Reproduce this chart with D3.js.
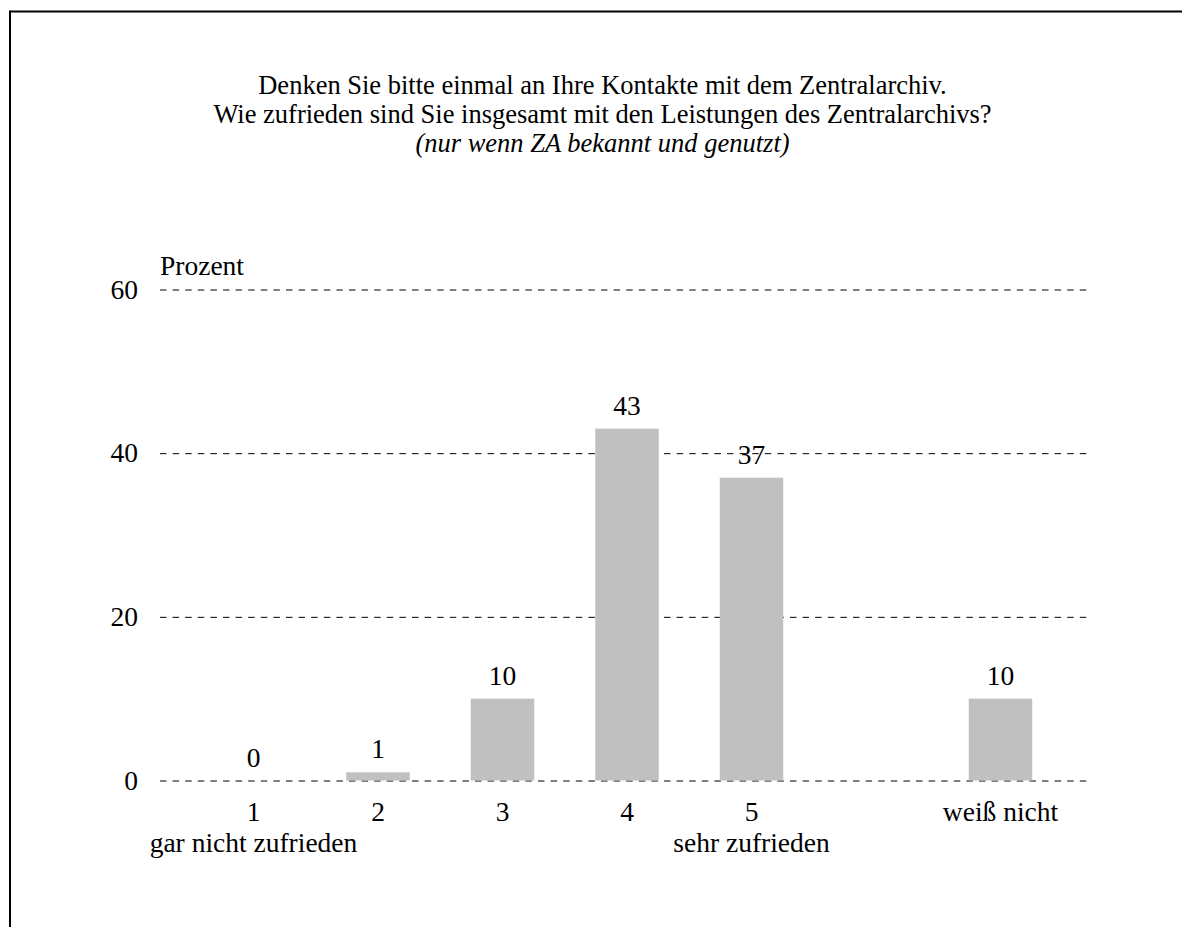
<!DOCTYPE html>
<html>
<head>
<meta charset="utf-8">
<script src="https://cdn.jsdelivr.net/npm/d3@7"></script>
<style>
  html, body { margin: 0; padding: 0; background: #fff; }
  svg { display: block; }
  text { font-family: "Liberation Serif", "Times New Roman", serif; fill: #000; }
</style>
</head>
<body>
<svg id="chart" width="1182" height="927"></svg>
<script>
// Answer categories (1 = gar nicht zufrieden ... 5 = sehr zufrieden, plus "weiß nicht")
const categories = ["1", "2", "3", "4", "5", "weiß nicht"];
// Share of respondents in percent
const values = [0, 1, 10, 43, 37, 10];
// Y axis ticks
const yTicks = [0, 20, 40, 60];
const titleLines = [
  "Denken Sie bitte einmal an Ihre Kontakte mit dem Zentralarchiv.",
  "Wie zufrieden sind Sie insgesamt mit den Leistungen des Zentralarchivs?"
];
const subtitle = "(nur wenn ZA bekannt und genutzt)";
const scaleEnds = [{ cat: "1", text: "gar nicht zufrieden" }, { cat: "5", text: "sehr zufrieden" }];

const labelSize = "27.5px";
const titleSize = "26.5px";

const svg = d3.select("#chart");

// Frame: top and left edge
svg.append("line").attr("x1", 10).attr("x2", 1182).attr("y1", 11.5).attr("y2", 11.5)
  .attr("stroke", "#000").attr("stroke-width", 2);
svg.append("line").attr("x1", 10).attr("x2", 10).attr("y1", 10.5).attr("y2", 927)
  .attr("stroke", "#000").attr("stroke-width", 2);

// Title
const title = svg.append("text").attr("text-anchor", "middle").style("font-size", titleSize);
titleLines.forEach((t, i) => {
  title.append("tspan").attr("x", 602.5).attr("y", 94 + i * 29).text(t);
});
svg.append("text").attr("x", 602.5).attr("y", 152).attr("text-anchor", "middle")
  .style("font-size", titleSize).style("font-style", "italic").text(subtitle);

// Scales: one empty slot separates "weiß nicht" from the rating scale
const slots = categories.slice(0, 5).concat([" "], categories.slice(5));
const x = d3.scalePoint().domain(slots).range([253.5, 1000.5]);
const barW = x.step() * 0.51;
const y = d3.scaleLinear().domain([0, 60]).range([780.5, 289.5]);

const gridLeft = 160, gridRight = 1090;

// Y axis with dashed gridlines
const yAxis = svg.append("g").attr("transform", `translate(${gridLeft},0)`)
  .call(d3.axisLeft(y).tickValues(yTicks).tickSizeInner(-(gridRight - gridLeft)).tickSizeOuter(0).tickPadding(22));
yAxis.select(".domain").remove();
yAxis.selectAll(".tick line").attr("stroke", "#000").attr("stroke-dasharray", "6.5,6.1");
yAxis.selectAll(".tick text").style("font-size", labelSize);

svg.append("text").attr("x", 160).attr("y", 275).style("font-size", labelSize).text("Prozent");

// Bars
const data = categories.map((c, i) => ({ cat: c, v: values[i] }));
svg.append("g").selectAll("rect").data(data).join("rect")
  .attr("x", d => x(d.cat) - barW / 2)
  .attr("y", d => y(d.v))
  .attr("width", barW)
  .attr("height", d => y(0) - y(d.v))
  .attr("fill", "#c0c0c0")
  .attr("stroke", d => d.v === 0 ? "#c0c0c0" : "none")
  .attr("stroke-width", 1);

// Value labels
svg.append("g").selectAll("text").data(data).join("text")
  .attr("x", d => x(d.cat))
  .attr("y", d => y(d.v) - 14)
  .attr("text-anchor", "middle")
  .style("font-size", labelSize)
  .text(d => d.v);

// Category labels
svg.append("g").selectAll("text").data(data).join("text")
  .attr("x", d => x(d.cat))
  .attr("y", 821)
  .attr("text-anchor", "middle")
  .style("font-size", labelSize)
  .text(d => d.cat);

// Scale end descriptions
svg.append("g").selectAll("text").data(scaleEnds).join("text")
  .attr("x", d => x(d.cat))
  .attr("y", 852)
  .attr("text-anchor", "middle")
  .style("font-size", labelSize)
  .text(d => d.text);
</script>
</body>
</html>
